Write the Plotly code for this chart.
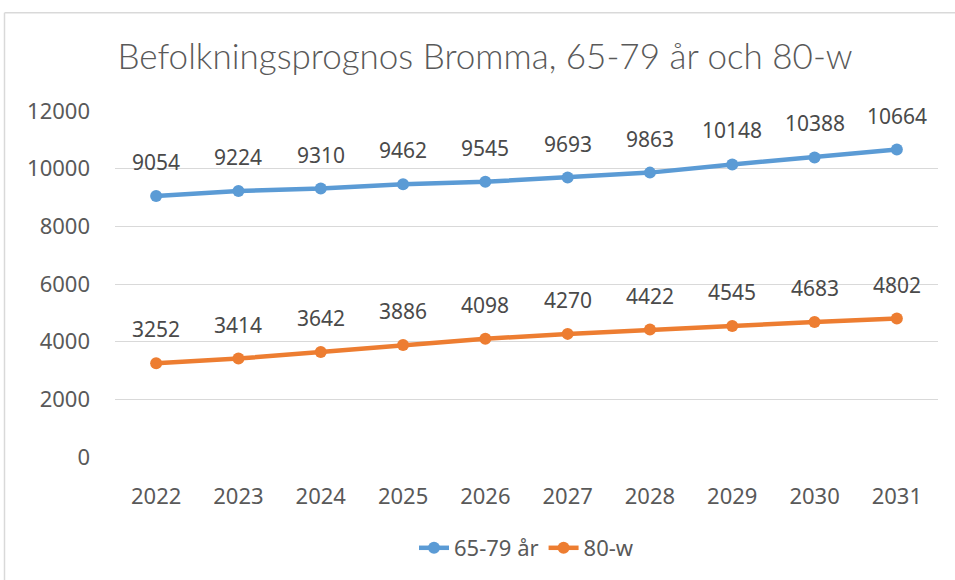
import plotly.graph_objects as go

years = ["2022", "2023", "2024", "2025", "2026", "2027", "2028", "2029", "2030", "2031"]
s1_name = "65-79 år"
s1_vals = [9054, 9224, 9310, 9462, 9545, 9693, 9863, 10148, 10388, 10664]
s2_name = "80-w"
s2_vals = [3252, 3414, 3642, 3886, 4098, 4270, 4422, 4545, 4683, 4802]
y_ticks = [0, 2000, 4000, 6000, 8000, 10000, 12000]
title_text = "Befolkningsprognos Bromma, 65-79 år och 80-w"

blue = "#5B9BD5"
orange = "#ED7D31"
txt = "#595959"
font_num = "Noto Sans"

fig = go.Figure()
for name, vals, col in [(s1_name, s1_vals, blue), (s2_name, s2_vals, orange)]:
    fig.add_trace(go.Scatter(
        x=years, y=vals, name=name, mode="lines+markers",
        line=dict(color=col, width=4.5), marker=dict(color=col, size=12),
        hoverinfo="x+y"))
    for i, v in enumerate(vals):
        fig.add_annotation(x=i, y=v, text=str(v), showarrow=False, yshift=34,
                           font=dict(family=font_num, size=21, color="#4a4a4a"))

W, H = 955, 580
L, R, T, B = 115, 17, 111, 122
pw, ph = W - L - R, H - T - B
bx = (4.5 - L) / pw
by = (H - B - 12.5) / ph
fig.add_shape(type="line", xref="paper", yref="paper", x0=bx, x1=bx, y0=-0.5, y1=by,
              line=dict(color="#d9d9d9", width=1.5))
fig.add_shape(type="line", xref="paper", yref="paper", x0=bx, x1=1.2, y0=by, y1=by,
              line=dict(color="#d9d9d9", width=1.5))

fig.update_layout(
    width=W, height=H,
    margin=dict(l=L, r=R, t=T, b=B),
    paper_bgcolor="white", plot_bgcolor="white",
    title=dict(text=title_text, x=485 / W, xanchor="center", y=1 - 57 / H, yanchor="middle",
               font=dict(family="Lato", size=35, color=txt, weight=300)),
    xaxis=dict(type="category", range=[-0.5, 9.5], showgrid=False, showline=False,
               ticks="", ticklabelstandoff=24,
               tickfont=dict(family=font_num, size=22, color=txt)),
    yaxis=dict(range=[0, 12000], tickvals=y_ticks, ticktext=[str(v) for v in y_ticks],
               showgrid=True, gridcolor="#d9d9d9", gridwidth=1.2, zeroline=False,
               showline=False, ticks="", ticklabelstandoff=24,
               tickfont=dict(family=font_num, size=22, color=txt)),
    legend=dict(orientation="h", x=0.5, xanchor="center", y=(H - B - 548) / ph, yanchor="middle",
                font=dict(family=font_num, size=22, color=txt)),
    showlegend=True,
)
fig.write_html("out.html", config={"displayModeBar": False},
               post_script="document.body.style.margin='0';")
